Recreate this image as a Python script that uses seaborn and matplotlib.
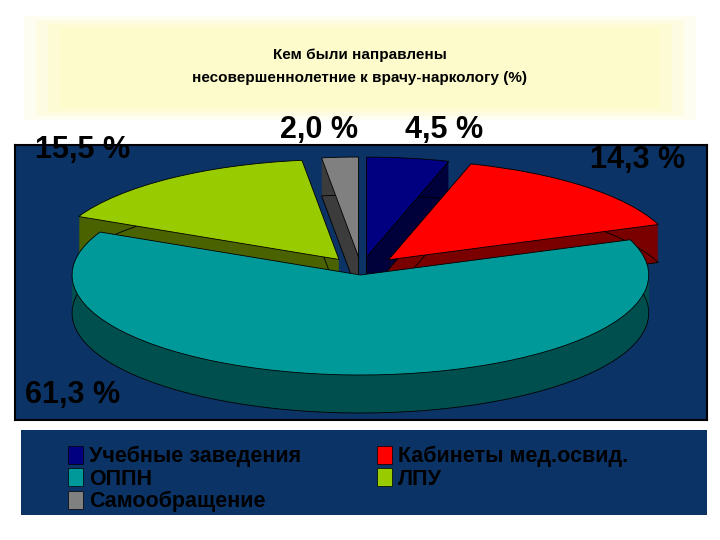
import matplotlib
matplotlib.use("Agg")
import matplotlib.pyplot as plt
import seaborn as sns
from matplotlib.patches import Rectangle

sns.set_theme(style="white")
plt.rcParams['font.family'] = ['Liberation Sans', 'DejaVu Sans']

categories = ["Учебные заведения", "Кабинеты мед.освид.", "ОППН", "ЛПУ", "Самообращение"]
values = [4.5, 14.3, 61.3, 15.5, 2.0]
labels = ["4,5 %", "14,3 %", "61,3 %", "15,5 %", "2,0 %"]
top_colors = ["#000080", "#ff0000", "#009999", "#99cc00", "#808080"]
side_colors = ["#00003a", "#7a0000", "#004f4f", "#4a6300", "#3c3c3c"]
explode = [0.13, 0.14, 0.05, 0.13, 0.13]

W, H = 720, 540
fig = plt.figure(figsize=(7.2, 5.4), dpi=100)
fig.patch.set_facecolor("white")

# title glow
for i, a in enumerate([0.25, 0.35, 0.5, 0.7]):
    pad = (3 - i) * 12
    fig.patches.append(Rectangle(((60 - pad) / W, 1 - (108 + pad / 3) / H), (600 + 2 * pad) / W,
                                 (80 + 2 * pad / 3) / H, transform=fig.transFigure,
                                 facecolor="#fdfbc8", edgecolor="none", alpha=a))
fig.text(360 / W, 1 - 55 / H, "Кем были направлены", ha="center", va="center",
         fontsize=11, fontweight="bold", color="black")
fig.text(360 / W, 1 - 78 / H, "несовершеннолетние к врачу-наркологу (%)", ha="center", va="center",
         fontsize=11, fontweight="bold", color="black")

# pie panel
ax = fig.add_axes([15 / W, 1 - 420 / H, 692 / W, 275 / H])
depth = 0.38
n = 40
for k in range(n, 0, -1):
    dy = -depth * k / n
    ax.pie(values, colors=side_colors, startangle=90, counterclock=False,
           explode=explode, center=(0, dy), radius=1.0, wedgeprops=dict(linewidth=0))
ax.pie(values, colors=side_colors, startangle=90, counterclock=False, explode=explode,
       center=(0, -depth), radius=1.0, wedgeprops=dict(linewidth=0.6, edgecolor="black"))
ax.pie(values, colors=top_colors, startangle=90, counterclock=False, explode=explode,
       center=(0, 0), radius=1.0, wedgeprops=dict(linewidth=0.6, edgecolor="black"))
ax.axis("on")
ax.set_frame_on(True)
ax.patch.set_visible(True)
ax.patch.set_facecolor("#0b3366")
ax.set_xticks([]); ax.set_yticks([])
ax.set_aspect("auto")
ax.set_xlim(-1.2, 1.2)
ax.set_ylim(-1.5, 1.25)
for s in ax.spines.values():
    s.set_visible(True)
    s.set_color("black")
    s.set_linewidth(1.5)

label_pos = [(405, 130), (590, 160), (25, 395), (35, 150), (280, 130)]
for lab, (x, y) in zip(labels, label_pos):
    fig.text(x / W, 1 - y / H, lab, ha="left", va="center", fontsize=22,
             fontweight="bold", color="black", zorder=10)

# legend panel
lax = fig.add_axes([21 / W, 1 - 515 / H, 686 / W, 85 / H])
lax.set_facecolor("#0b3366")
lax.set_xticks([]); lax.set_yticks([])
for s in lax.spines.values():
    s.set_visible(False)
handles = [Rectangle((0, 0), 1, 1, facecolor=c, edgecolor="black", linewidth=0.5) for c in top_colors]
order = [0, 2, 4, 1, 3]
lax.legend([handles[i] for i in order], [categories[i] for i in order], ncol=2,
           loc="upper left", bbox_to_anchor=(0.04, 1.04),
           frameon=False, handlelength=0.7, handleheight=0.9, handletextpad=0.3,
           columnspacing=3.5, labelspacing=0.05, labelcolor="black",
           prop=dict(weight="bold", size=15.5))

fig.savefig("out.png", dpi=100)
